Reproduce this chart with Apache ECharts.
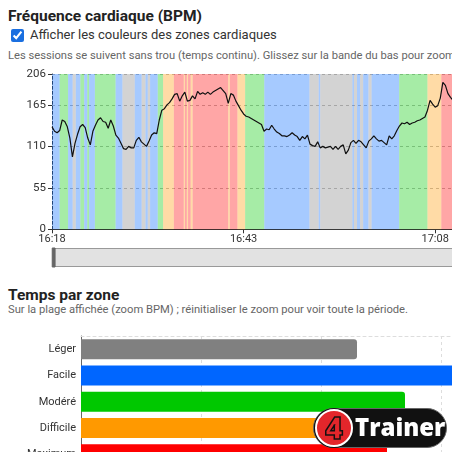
<!DOCTYPE html>
<html lang="fr">
<head>
<meta charset="utf-8">
<title>Fréquence cardiaque</title>
<script src="https://cdn.jsdelivr.net/npm/echarts@6.0.0/dist/echarts.min.js"></script>
<style>
html, body { margin: 0; padding: 0; background: #fff; }
body { width: 452px; height: 452px; overflow: hidden; font-family: Roboto, "Noto Sans", sans-serif; color: #222; }
.page { position: relative; width: 452px; height: 452px; overflow: hidden; }
.page > * { position: absolute; white-space: nowrap; margin: 0; }
h2 { left: 8px; font-size: 15.5px; line-height: 22px; font-weight: 700; color: #222; }
.toggle { left: 11px; top: 26px; font-size: 13px; line-height: 18px; color: #333; display: flex; align-items: center; }
.toggle input { width: 13px; height: 13px; margin: 0 6px 0 0; accent-color: #1a6fe0; }
.hint { left: 8px; font-size: 11.2px; line-height: 16px; color: #666; }
#hr-chart { left: 0; top: 67px; width: 500px; height: 208px; }
#zone-chart { left: 0; top: 330px; width: 600px; height: 160px; }
.logo { left: 313px; top: 408px; width: 134px; height: 40px; border-radius: 20px; background: #111; border: 1px solid #666; box-sizing: border-box; }
.logo .four { position: absolute; left: 1px; top: 0px; width: 34px; height: 34px; border-radius: 50%; background: #e3262b; border: 2px solid #fff; box-shadow: 0 0 0 1px #111; color: #e3262b; -webkit-text-stroke: 1.5px #111; font: 800 30px/34px "Open Sans", sans-serif; text-align: center; }
.logo .name { position: absolute; left: 41px; top: 1px; color: #fff; font: 800 24px/34px "Open Sans", sans-serif; }
</style>
</head>
<body>
<div class="page">
  <h2 style="top:5px">Fréquence cardiaque (BPM)</h2>
  <label class="toggle"><input type="checkbox" checked>Afficher les couleurs des zones cardiaques</label>
  <p class="hint" style="top:48px">Les sessions se suivent sans trou (temps continu). Glissez sur la bande du bas pour zoomer.</p>
  <div id="hr-chart"></div>
  <h2 style="top:284px">Temps par zone</h2>
  <p class="hint" style="top:302px">Sur la plage affichée (zoom BPM) ; réinitialiser le zoom pour voir toute la période.</p>
  <div id="zone-chart"></div>
  <div class="logo"><span class="four">4</span><span class="name">Trainer</span></div>
</div>
<script>
// début de la première séance, en minutes depuis minuit (16:18)
const START_MIN = 16 * 60 + 18;
// un relevé toutes les 20 s
const STEP_MIN = 1 / 3;

const hrValues = [
    136, 130, 128, 131, 145, 143, 136, 121, 96, 114,
    126, 136, 139, 135, 121, 112, 130, 138, 145, 148,
    143, 142, 134, 145, 137, 125, 121, 114, 107, 106,
    110, 108, 108, 118, 122, 116, 113, 110, 117, 125,
    128, 127, 145, 158, 160, 165, 168, 173, 179, 180,
    170, 177, 182, 170, 171, 177, 173, 183, 179, 181,
    179, 182, 179, 182, 184, 186, 188, 184, 180, 167,
    180, 178, 170, 164, 158, 153, 150, 149, 147, 145,
    143, 141, 139, 130, 133, 132, 138, 133, 129, 127,
    124, 124, 123, 125, 128, 125, 123, 118, 123, 120,
    125, 113, 111, 110, 116, 108, 110, 108, 109, 110,
    106, 110, 106, 110, 112, 100, 105, 115, 118, 114,
    118, 116, 112, 108, 117, 120, 124, 120, 117, 118,
    115, 112, 124, 120, 124, 131, 137, 141, 140, 142,
    139, 141, 142, 144, 145, 147, 149, 158, 171, 166,
    162, 164, 174, 195, 191, 180, 175, 171, 168, 170,
    172, 169, 171, 173, 170, 168,
];

// plages de zone : [début (min), fin (min), zone]
const zoneBands = [
    [0, 1, 'F'], [1, 2.1, 'M'], [2.1, 2.7, 'F'], [2.7, 3.1, 'L'], [3.1, 3.7, 'F'],
    [3.7, 4.2, 'M'], [4.2, 4.6, 'F'], [4.6, 4.85, 'M'], [4.85, 5.6, 'F'], [5.6, 8.3, 'M'],
    [8.3, 9.2, 'F'], [9.2, 10.8, 'L'], [10.8, 11.7, 'F'], [11.7, 12.2, 'L'], [12.2, 12.5, 'F'],
    [12.5, 12.8, 'L'], [12.8, 13.8, 'F'], [13.8, 14.5, 'M'], [14.5, 15.9, 'D'], [15.9, 17.2, 'X'],
    [17.2, 17.35, 'D'], [17.35, 17.6, 'X'], [17.6, 17.75, 'D'], [17.75, 18.1, 'X'], [18.1, 18.35, 'D'],
    [18.35, 23, 'X'], [23, 23.2, 'D'], [23.2, 24.2, 'X'], [24.2, 25.2, 'D'], [25.2, 27.7, 'M'],
    [27.7, 33.6, 'F'], [33.6, 34.8, 'L'], [34.8, 35, 'F'], [35, 39.2, 'L'], [39.2, 39.4, 'F'],
    [39.4, 39.8, 'L'], [39.8, 40.2, 'F'], [40.2, 40.6, 'L'], [40.6, 41.3, 'F'], [41.3, 41.7, 'L'],
    [41.7, 45.3, 'F'], [45.3, 49, 'M'], [49, 50.8, 'D'], [50.8, 55, 'X'],
];

const zoneKeys = ['L', 'F', 'M', 'D', 'X'];
const zoneNames = ['Léger', 'Facile', 'Modéré', 'Difficile', 'Maximum'];
// temps passé par zone, en minutes
const zoneMinutes = [9.2, 14.5, 10.8, 11.0, 10.2];

const ZONE_COLORS = {L: '#808080', F: '#0066ff', M: '#00c800', D: '#ff9900', X: '#ff0000'};

const clock = min => {
    const t = Math.round(START_MIN + min);
    return Math.floor(t / 60) + ':' + String(t % 60).padStart(2, '0');
};

const hrChart = echarts.init(document.getElementById('hr-chart'));
hrChart.setOption({
    animation: false,
    textStyle: {fontFamily: 'Roboto'},
    grid: {left: 52, right: 26.5, top: 7, bottom: 45.7, outerBoundsMode: 'none'},
    xAxis: {
        type: 'value',
        min: 0,
        max: 55,
        interval: 25,
        axisLine: {lineStyle: {color: '#333'}},
        axisTick: {length: 4, lineStyle: {color: '#333'}},
        axisLabel: {color: '#333', fontSize: 11, margin: 4, formatter: clock},
        splitLine: {show: false},
    },
    yAxis: {
        type: 'value',
        min: 0,
        max: 206,
        interval: 55,
        name: 'BPM',
        nameGap: 4,
        nameTextStyle: {color: '#e02020', fontSize: 10},
        axisLine: {show: true, lineStyle: {color: '#333', type: [3, 2]}},
        axisTick: {show: true, length: 4, lineStyle: {color: '#333'}},
        axisLabel: {color: '#333', fontSize: 11.5, margin: 6},
        splitLine: {lineStyle: {color: '#bbb', type: [3, 3]}},
    },
    dataZoom: [{
        type: 'slider',
        xAxisIndex: 0,
        start: 0,
        end: 100,
        left: 52,
        right: 26.5,
        top: 181,
        height: 19,
        showDetail: false,
        showDataShadow: false,
        brushSelect: false,
        moveHandleSize: 0,
        backgroundColor: 'rgba(0,0,0,0)',
        fillerColor: '#e2e2e2',
        borderColor: '#999',
        handleIcon: 'path://M0,0H3V20H0Z',
        handleSize: '100%',
        handleStyle: {color: '#666', borderColor: '#666'},
    }],
    series: [{
        type: 'line',
        data: hrValues.map((v, i) => [i * STEP_MIN, v]),
        showSymbol: false,
        lineStyle: {color: '#111', width: 1.2},
        markArea: {
            silent: true,
            data: zoneBands.map(([s, e, z]) => [
                {xAxis: s, itemStyle: {color: ZONE_COLORS[z], opacity: 0.35}},
                {xAxis: e},
            ]),
        },
    }],
});

const zoneChart = echarts.init(document.getElementById('zone-chart'));
zoneChart.setOption({
    animation: false,
    textStyle: {fontFamily: 'Roboto'},
    grid: {left: 81, right: 39, top: 6, bottom: 22.5, outerBoundsMode: 'none'},
    xAxis: {
        type: 'value',
        position: 'top',
        min: 0,
        max: 16,
        interval: 4,
        axisLine: {show: true, lineStyle: {color: '#ddd', type: [3, 3]}},
        axisTick: {show: false},
        axisLabel: {show: false},
        splitLine: {lineStyle: {color: '#ddd', type: [3, 3]}},
    },
    yAxis: {
        type: 'category',
        inverse: true,
        data: zoneNames,
        axisLine: {lineStyle: {color: '#666'}},
        axisTick: {alignWithLabel: true, length: 4, lineStyle: {color: '#666'}},
        axisLabel: {color: '#333', fontSize: 11, margin: 5},
    },
    series: [{
        type: 'bar',
        barWidth: 20,
        data: zoneMinutes.map((v, i) => ({
            value: v,
            itemStyle: {color: ZONE_COLORS[zoneKeys[i]], borderRadius: [0, 3, 3, 0]},
        })),
    }],
});
</script>
</body>
</html>
